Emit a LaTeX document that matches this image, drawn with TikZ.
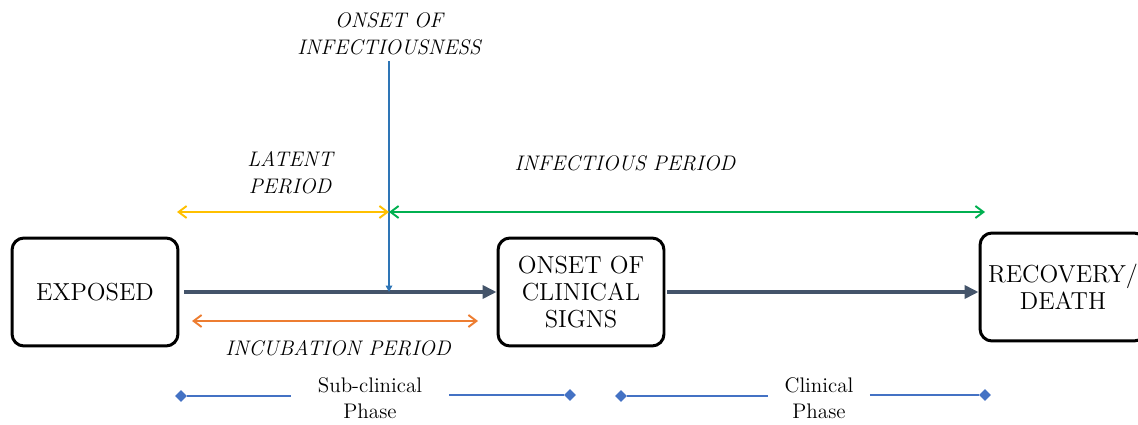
\documentclass[tikz,border=0pt]{standalone}
\usetikzlibrary{arrows.meta,shapes.geometric}
\definecolor{slate}{HTML}{44546A}
\definecolor{infblue}{HTML}{2E75B6}
\definecolor{latyellow}{HTML}{FFC000}
\definecolor{infgreen}{HTML}{00B050}
\definecolor{incorange}{HTML}{ED7D31}
\definecolor{phaseblue}{HTML}{4472C4}
\tikzset{
  stage/.style={draw, line width=1.7pt, rounded corners=0.24cm, minimum width=3.32cm,
    minimum height=2.16cm, align=center, font=\fontsize{14}{15.5}\selectfont},
  lbl/.style={align=center, font=\fontsize{12}{15.5}\selectfont\itshape},
  flow/.style={draw=slate, line width=2.8pt, -{Triangle[length=2.8mm,width=2.6mm]}},
  span/.style={line width=1.1pt,
    {Straight Barb[length=1.6mm,width=2.4mm]}-{Straight Barb[length=1.6mm,width=2.4mm]}},
  tick/.style={diamond, fill=phaseblue, inner sep=0pt, minimum size=0.24cm},
  phase/.style={align=center, font=\fontsize{12}{15}\selectfont},
}
\begin{document}
\begin{tikzpicture}[x=0.02cm, y=-0.02cm]
        \useasboundingbox (0,0) rectangle (1138,425);

        % Etapas
        \node[stage] (exposed) at (95,292) {EXPOSED};
        \node[stage] (onset) at (581,292) {ONSET OF\\CLINICAL\\SIGNS};
        \node[stage] (recovery) at (1063,287) {RECOVERY/\\DEATH};
        \draw[flow, shorten <=0.1cm] (exposed) -- (onset);
        \draw[flow, shorten <=0.04cm] (onset) -- (onset -| recovery.west);

        % Periodos
        \node[lbl] (inf) at (389,34) {ONSET OF\\INFECTIOUSNESS};
        \node[lbl] (latent) at (290,173) {LATENT\\PERIOD};
        \node[lbl] (infper) at (625,163) {INFECTIOUS PERIOD};
        \node[lbl] (incub) at (338,348) {INCUBATION PERIOD};
        \coordinate (latstart) at (177,212);
        \coordinate (split) at (389,212);
        \coordinate (infend) at (985,212);
        \coordinate (incstart) at (192,321);
        \coordinate (incend) at (478,321);
        \draw[infblue, line width=1.1pt, -{Triangle[length=1.3mm,width=1.3mm]}] (inf) -- (inf |- exposed);
        \draw[span, latyellow] (latstart) -- (split);
        \draw[span, infgreen] (split) -- (infend);
        \draw[span, incorange] (incstart) -- (incend);

        % Fases
        \foreach \n/\a/\m/\b/\txt/\sep in {
            sub/181/370/570/{Sub-clinical\\Phase}/0.53cm,
            clin/621/819/985/{Clinical\\Phase}/0.32cm
            } {
            \node[tick] (\n a) at (\a,396) {};
            \node[tick] (\n b) at (\b,395) {};
            \node[phase, inner xsep=\sep] (\n) at (\m,398) {\txt};
            \draw[phaseblue, line width=0.6pt] (\n a) -- (\n a -| \n.west);
            \draw[phaseblue, line width=0.6pt] (\n b -| \n.east) -- (\n b);
        }
    \end{tikzpicture}
\end{document}
